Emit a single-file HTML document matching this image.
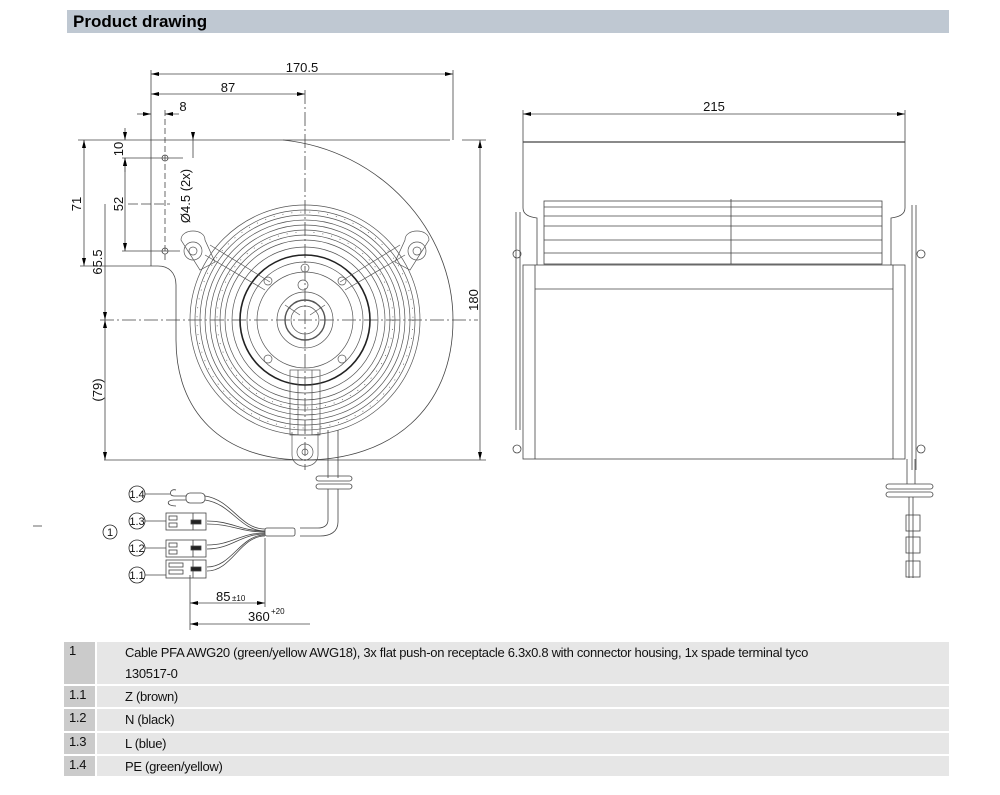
<!DOCTYPE html>
<html><head><meta charset="utf-8"><style>
body{margin:0;background:#fff;width:1000px;height:795px;overflow:hidden;font-family:"Liberation Sans",Arial,sans-serif}
.hdr{position:absolute;left:67px;top:10px;width:882px;height:23px;background:#bfc8d2;font-weight:bold;font-size:17px;line-height:23px;padding-left:6px;box-sizing:border-box;color:#000}
.row{position:absolute;left:64px;width:885px;font-size:13px;color:#111;letter-spacing:-0.3px}
.row .a{position:absolute;left:0;top:0;bottom:0;width:31px;background:#cbcbcb;padding:1px 0 0 5px;box-sizing:border-box}
.row .b{position:absolute;left:33px;right:0;top:0;bottom:0;background:#e6e6e6;padding:0 0 0 28px;box-sizing:border-box;line-height:21px}
svg{position:absolute;left:0;top:0}
</style></head><body>
<div class="hdr">Product drawing</div>
<div class="row" style="top:642px;height:42px"><div class="a">1</div><div class="b">Cable PFA AWG20 (green/yellow AWG18), 3x flat push-on receptacle 6.3x0.8 with connector housing, 1x spade terminal tyco<br>130517-0</div></div>
<div class="row" style="top:686px;height:21px"><div class="a">1.1</div><div class="b">Z (brown)</div></div>
<div class="row" style="top:709px;height:22px"><div class="a">1.2</div><div class="b">N (black)</div></div>
<div class="row" style="top:733px;height:21px"><div class="a">1.3</div><div class="b">L (blue)</div></div>
<div class="row" style="top:756px;height:20px"><div class="a">1.4</div><div class="b">PE (green/yellow)</div></div>

<svg width="1000" height="640" viewBox="0 0 1000 640" font-family="Liberation Sans, Arial, sans-serif" font-size="13">
<defs><marker id="ar" markerWidth="10" markerHeight="6" refX="10" refY="3" orient="auto-start-reverse"><path d="M0,0.5 L10,3 L0,5.5z" fill="#000"/></marker></defs>
<g stroke="#444" stroke-width="0.8" fill="none">
<line x1="151" y1="70" x2="151" y2="266"/><line x1="453" y1="70" x2="453" y2="140"/>
<line x1="151" y1="74" x2="453" y2="74" marker-start="url(#ar)" marker-end="url(#ar)"/>
<line x1="151" y1="94" x2="305" y2="94" marker-start="url(#ar)" marker-end="url(#ar)"/>
<line x1="305" y1="90" x2="305" y2="470" stroke-dasharray="14,3,2,3"/>
<line x1="137" y1="114" x2="151" y2="114" marker-end="url(#ar)"/><line x1="179" y1="114" x2="165" y2="114" marker-end="url(#ar)"/>
<line x1="165" y1="110" x2="165" y2="260" stroke-dasharray="6,3"/>
<line x1="78" y1="140" x2="450" y2="140"/><line x1="462" y1="140" x2="486" y2="140"/>
<line x1="122" y1="158" x2="183" y2="158"/><line x1="122" y1="251" x2="180" y2="251"/>
<line x1="125" y1="128" x2="125" y2="140" marker-end="url(#ar)"/><line x1="125" y1="172" x2="125" y2="158" marker-end="url(#ar)"/>
<line x1="125" y1="158" x2="125" y2="251" marker-start="url(#ar)" marker-end="url(#ar)"/>
<line x1="193" y1="140" x2="193" y2="158"/><line x1="193" y1="140" x2="193" y2="133" marker-start="url(#ar)"/>
<line x1="84" y1="140" x2="84" y2="266" marker-start="url(#ar)" marker-end="url(#ar)"/>
<line x1="80" y1="266" x2="151" y2="266"/>
<line x1="105" y1="204" x2="105" y2="320" marker-end="url(#ar)"/>
<line x1="105" y1="320" x2="105" y2="460" marker-start="url(#ar)" marker-end="url(#ar)"/>
<line x1="104" y1="460" x2="486" y2="460"/>
<line x1="480" y1="140" x2="480" y2="460" marker-start="url(#ar)" marker-end="url(#ar)"/>
<line x1="100" y1="320" x2="478" y2="320" stroke-dasharray="14,3,2,3"/>
<line x1="128" y1="204" x2="170" y2="204" stroke-dasharray="10,3"/>
<path d="M283,140 C380,150 453,230 453,320 C453,410 390,460 305,460 C220,460 176,410 176,340 L176,285 C176,272 168,266 158,266 L151,266"/>
<circle cx="165" cy="158" r="3"/><circle cx="165" cy="251" r="3"/>
<g stroke="#555" stroke-width="0.7">
<circle cx="305" cy="320" r="115"/><circle cx="305" cy="320" r="110"/><circle cx="305" cy="320" r="105"/><circle cx="305" cy="320" r="100"/><circle cx="305" cy="320" r="95"/><circle cx="305" cy="320" r="90"/><circle cx="305" cy="320" r="85"/><circle cx="305" cy="320" r="80"/><circle cx="305" cy="320" r="73"/>
<circle cx="305" cy="320" r="108" stroke-dasharray="1,8"/><circle cx="305" cy="320" r="88" stroke-dasharray="1,8"/>
<circle cx="305" cy="320" r="65" stroke="#222" stroke-width="1.6"/><circle cx="305" cy="320" r="58"/><circle cx="305" cy="320" r="48"/><circle cx="305" cy="320" r="28"/><circle cx="305" cy="320" r="20" stroke-width="1.4"/><circle cx="305" cy="320" r="14"/>
<line x1="285" y1="305" x2="300" y2="315"/><line x1="325" y1="305" x2="310" y2="315"/><line x1="305" y1="334" x2="305" y2="348"/>
<path d="M181,240 C181,228 205,228 205,240 L215,262 L200,270 Z"/><circle cx="193" cy="251" r="9"/><circle cx="193" cy="251" r="4"/>
<path d="M429,240 C429,228 405,228 405,240 L395,262 L410,270 Z"/><circle cx="417" cy="251" r="9"/><circle cx="417" cy="251" r="4"/>
<path d="M292,432 L292,455 C292,470 318,470 318,455 L318,432"/><circle cx="305" cy="452" r="8"/><circle cx="305" cy="452" r="3"/>
<line x1="205" y1="255" x2="265" y2="290"/><line x1="210" y1="245" x2="270" y2="282"/><line x1="405" y1="255" x2="345" y2="290"/><line x1="400" y1="245" x2="340" y2="282"/>
<rect x="290" y="370" width="30" height="65"/><line x1="298" y1="370" x2="298" y2="435"/><line x1="312" y1="370" x2="312" y2="435"/>
<circle cx="268" cy="281" r="4"/><circle cx="342" cy="281" r="4"/><circle cx="268" cy="359" r="4"/><circle cx="342" cy="359" r="4"/><circle cx="305" cy="268" r="4"/><circle cx="303" cy="285" r="5"/>
</g>
<line x1="328" y1="430" x2="328" y2="478"/><line x1="338" y1="430" x2="338" y2="478"/>
<rect x="316" y="476" width="36" height="5" rx="2.5"/><rect x="316" y="484" width="36" height="5" rx="2.5"/>
<path d="M328,489 L328,520 C328,526 323,528 318,528 L300,528"/><path d="M338,489 L338,522 C338,532 330,536 320,536 L300,536"/>
<rect x="265" y="528" width="30" height="8" rx="2"/>
<path d="M265,529 C240,529 232,500 205,496"/><path d="M265,531 C240,531 232,504 205,500"/>
<path d="M265,531 C240,531 232,521 207,521"/><path d="M265,532 C240,532 232,524 207,524"/>
<path d="M265,533 C240,533 232,545 207,545"/><path d="M265,534 C240,534 232,549 207,549"/>
<path d="M265,535 C240,535 232,567 207,567"/><path d="M265,536 C240,536 232,571 207,571"/>
<rect x="186" y="493" width="19" height="10" rx="4"/><path d="M186,496 L174,496 C168,496 170,488 176,490 M186,500 L174,500 C166,500 166,506 176,506"/>
<rect x="166" y="513" width="40" height="17"/><line x1="193" y1="513" x2="193" y2="530"/>
<rect x="166" y="540" width="40" height="17"/><line x1="193" y1="540" x2="193" y2="557"/>
<rect x="166" y="560" width="40" height="18"/><line x1="193" y1="560" x2="193" y2="578"/>
<rect x="169" y="516" width="8" height="4"/><rect x="169" y="523" width="8" height="4"/><rect x="169" y="543" width="8" height="4"/><rect x="169" y="550" width="8" height="4"/><rect x="169" y="563" width="14" height="4"/><rect x="169" y="570" width="14" height="4"/>
<rect x="191" y="520" width="10" height="4" fill="#222"/><rect x="191" y="546" width="10" height="4" fill="#222"/><rect x="191" y="567" width="10" height="4" fill="#222"/>
<circle cx="137" cy="494" r="8" stroke="#222"/><circle cx="137" cy="521" r="8" stroke="#222"/><circle cx="137" cy="548" r="8" stroke="#222"/><circle cx="137" cy="575" r="8" stroke="#222"/><circle cx="110" cy="532" r="7" stroke="#222"/>
<line x1="145" y1="494" x2="170" y2="494"/><line x1="145" y1="521" x2="166" y2="521"/><line x1="145" y1="548" x2="166" y2="548"/><line x1="145" y1="575" x2="166" y2="575"/>
<line x1="33" y1="526" x2="42" y2="526"/>
<line x1="190" y1="575" x2="190" y2="630"/><line x1="265" y1="538" x2="265" y2="607"/>
<line x1="190" y1="603" x2="265" y2="603" marker-start="url(#ar)" marker-end="url(#ar)"/>
<line x1="190" y1="624" x2="310" y2="624" marker-start="url(#ar)"/>
<line x1="523" y1="110" x2="523" y2="142"/><line x1="905" y1="110" x2="905" y2="142"/>
<line x1="523" y1="114" x2="905" y2="114" marker-start="url(#ar)" marker-end="url(#ar)"/>
<line x1="523" y1="142" x2="905" y2="142" stroke-width="1.3"/>
<path d="M523,142 L523,208 C523,215 530,217 537,218 L537,265"/><path d="M905,142 L905,208 C905,215 898,217 891,218 L891,265"/>
<rect x="544" y="201" width="338" height="63"/>
<line x1="544" y1="207" x2="882" y2="207"/><line x1="544" y1="216" x2="882" y2="216"/><line x1="544" y1="226" x2="882" y2="226"/><line x1="544" y1="240" x2="882" y2="240"/><line x1="544" y1="253" x2="882" y2="253"/>
<line x1="731" y1="199" x2="731" y2="264"/>
<rect x="523" y="265" width="382" height="194"/><line x1="535" y1="265" x2="535" y2="459"/><line x1="893" y1="265" x2="893" y2="459"/><line x1="535" y1="289" x2="893" y2="289"/>
<line x1="516" y1="212" x2="516" y2="430"/><line x1="520" y1="212" x2="520" y2="430"/>
<line x1="912" y1="205" x2="912" y2="470"/><line x1="916" y1="205" x2="916" y2="470"/>
<circle cx="517" cy="254" r="4"/><circle cx="517" cy="449" r="4"/><circle cx="921" cy="254" r="4"/><circle cx="921" cy="449" r="4"/>
<line x1="907" y1="459" x2="907" y2="484"/><line x1="915" y1="459" x2="915" y2="484"/>
<rect x="886" y="484" width="47" height="5" rx="2.5"/><rect x="886" y="492" width="47" height="5" rx="2.5"/>
<line x1="909" y1="497" x2="909" y2="578"/><line x1="913" y1="497" x2="913" y2="578"/>
<rect x="906" y="515" width="14" height="16"/><rect x="906" y="537" width="14" height="16"/><rect x="906" y="561" width="14" height="16"/>
</g>
<g fill="#111" font-size="13">
<text x="302" y="72" text-anchor="middle">170.5</text>
<text x="228" y="92" text-anchor="middle">87</text>
<text x="183" y="111" text-anchor="middle">8</text>
<text x="714" y="111" text-anchor="middle">215</text>
<text transform="translate(123,149) rotate(-90)" text-anchor="middle">10</text>
<text transform="translate(123,204) rotate(-90)" text-anchor="middle">52</text>
<text transform="translate(81,204) rotate(-90)" text-anchor="middle">71</text>
<text transform="translate(102,262) rotate(-90)" text-anchor="middle">65.5</text>
<text transform="translate(102,390) rotate(-90)" text-anchor="middle">(79)</text>
<text transform="translate(190,196) rotate(-90)" text-anchor="middle">Ø4.5 (2x)</text>
<text transform="translate(478,300) rotate(-90)" text-anchor="middle">180</text>
<text x="137" y="498" text-anchor="middle" font-size="11">1.4</text>
<text x="137" y="525" text-anchor="middle" font-size="11">1.3</text>
<text x="137" y="552" text-anchor="middle" font-size="11">1.2</text>
<text x="137" y="579" text-anchor="middle" font-size="11">1.1</text>
<text x="110" y="536" text-anchor="middle" font-size="11">1</text>
<text x="216" y="601">85</text><text x="232" y="601" font-size="8">±10</text>
<text x="248" y="621">360</text><text x="271" y="614" font-size="8">+20</text>
</g>
</svg>
</body></html>
